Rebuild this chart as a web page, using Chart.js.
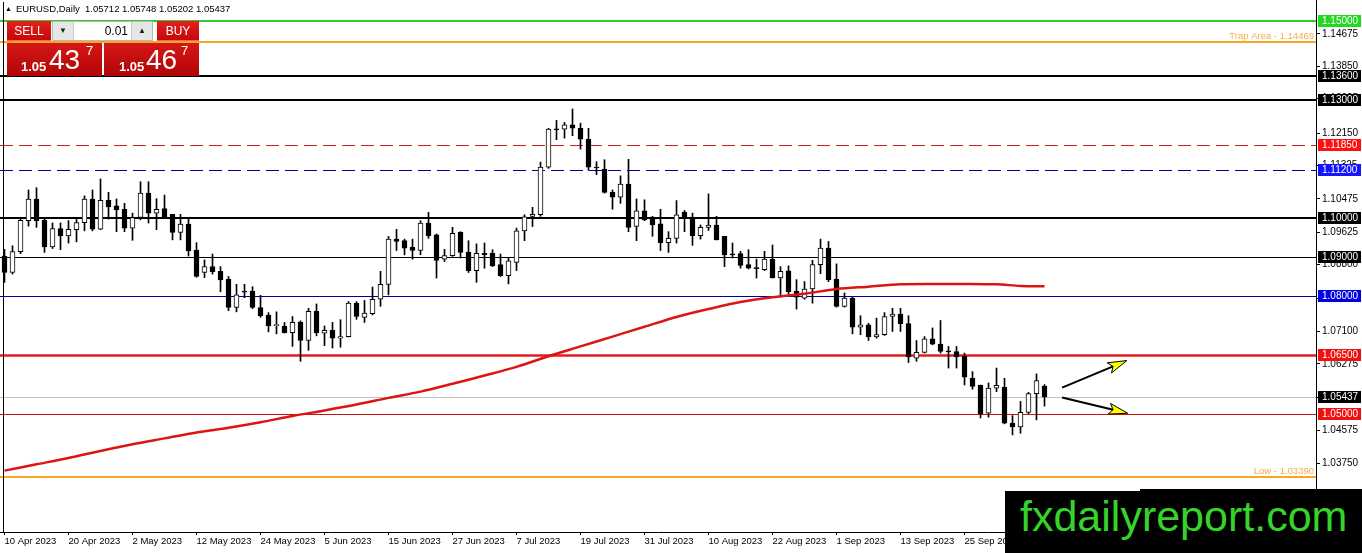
<!DOCTYPE html>
<html>
<head>
<meta charset="utf-8">
<script src="https://cdn.jsdelivr.net/npm/chart.js@4.4.0/dist/chart.umd.min.js"></script>
<style>
body { margin: 0; background: #fff; }
#wrap { position: relative; width: 1362px; height: 553px; overflow: hidden; font-family: "Liberation Sans", Arial, sans-serif; }
#myChart { position: absolute; left: 0; top: 0; }
.hdr { position: absolute; left: 5px; top: 3px; font-size: 9.5px; color: #000; white-space: nowrap; }
.hdr .tri { font-size: 7px; margin-right: 4px; position: relative; top: -1px; }
.btn { position: absolute; top: 21px; height: 20px; line-height: 20px; color: #fff; font-size: 12px; text-align: center;
       background: linear-gradient(#e42020, #c40808); border-bottom: 1px solid #f06060; box-sizing: border-box; }
.lot { position: absolute; left: 52px; top: 21px; width: 101px; height: 20px; background: #fff; border: 1px solid #b8b8b8; box-sizing: border-box; }
.lot .dn, .lot .up { position: absolute; top: 0; width: 20px; height: 18px; background: #e6e6e6; font-size: 8px; line-height: 18px; text-align: center; color: #222; }
.lot .dn { left: 0; border-right: 1px solid #ccc; }
.lot .up { right: 0; border-left: 1px solid #ccc; }
.lot .val { position: absolute; right: 24px; top: 0; line-height: 18px; font-size: 12px; color: #000; }
.big { position: absolute; top: 43px; width: 95px; height: 33px; background: linear-gradient(#d61616, #b00606); color: #fff; }
.big span { position: absolute; line-height: 1; }
.big .s { font-size: 13px; font-weight: bold; top: 17px; }
.big .l { font-size: 28px; top: 3px; }
.big .sup { font-size: 13px; top: 1px; }
.wm { position: absolute; left: 1005px; top: 491px; width: 357px; height: 62px; background: #000; }
.wm2 { position: absolute; left: 1140px; top: 489px; width: 222px; height: 4px; background: #000; }
.wm span { position: absolute; left: 15px; top: 4px; font-size: 43px; line-height: 1; color: #35d42a; white-space: nowrap; }
</style>
</head>
<body>
<div id="wrap">
  <canvas id="myChart" width="1362" height="553"></canvas>
  <div class="hdr"><span class="tri">&#9650;</span>EURUSD,Daily&nbsp; 1.05712 1.05748 1.05202 1.05437</div>
  <div class="btn" style="left:7px;width:44px">SELL</div>
  <div class="lot"><div class="dn">&#9660;</div><div class="val">0.01</div><div class="up">&#9650;</div></div>
  <div class="btn" style="left:157px;width:42px">BUY</div>
  <div class="big" style="left:7px"><span class="s" style="left:14px">1.05</span><span class="l" style="left:42px">43</span><span class="sup" style="left:79px">7</span></div>
  <div class="big" style="left:104px"><span class="s" style="left:15px">1.05</span><span class="l" style="left:42px">46</span><span class="sup" style="left:77px">7</span></div>
  <div class="wm2"></div>
  <div class="wm"><span>fxdailyreport.com</span></div>
</div>
<script>
// date labels, one every 8 daily bars starting at bar 0
var dateLabels = ['10 Apr 2023', '20 Apr 2023', '2 May 2023', '12 May 2023', '24 May 2023', '5 Jun 2023',
  '15 Jun 2023', '27 Jun 2023', '7 Jul 2023', '19 Jul 2023', '31 Jul 2023', '10 Aug 2023',
  '22 Aug 2023', '1 Sep 2023', '13 Sep 2023', '25 Sep 2023'];
var labelStep = 8;

var opens = [
  1.0902, 1.0860, 1.0913, 1.0992, 1.1047, 1.0993, 1.0925, 1.0972, 1.0953, 1.0969,
  1.0987, 1.1047, 1.0970, 1.1044, 1.1030, 1.1021, 1.0973, 1.1000, 1.1062, 1.1011,
  1.1023, 1.1008, 1.0962, 1.0983, 1.0917, 1.0860, 1.0875, 1.0863, 1.0843, 1.0771,
  1.0811, 1.0813, 1.0771, 1.0752, 1.0725, 1.0724, 1.0707, 1.0734, 1.0687, 1.0761,
  1.0706, 1.0713, 1.0693, 1.0697, 1.0782, 1.0746, 1.0755, 1.0792, 1.0830, 1.0945,
  1.0941, 1.0924, 1.0916, 1.0986, 1.0956, 1.0894, 1.0903, 1.0962, 1.0912, 1.0865,
  1.0909, 1.0909, 1.0880, 1.0852, 1.0886, 1.0966, 1.1003, 1.1007, 1.1128, 1.1225,
  1.1225, 1.1236, 1.1227, 1.1199, 1.1127, 1.1123, 1.1064, 1.1052, 1.1085, 1.0977,
  1.1017, 1.1001, 1.0984, 1.0936, 1.0947, 1.1014, 1.1001, 1.0954, 1.0975, 1.0981,
  1.0952, 1.0906, 1.0908, 1.0880, 1.0871, 1.0867, 1.0894, 1.0846, 1.0864, 1.0812,
  1.0795, 1.0818, 1.0880, 1.0922, 1.0843, 1.0774, 1.0795, 1.0721, 1.0727, 1.0696,
  1.0702, 1.0748, 1.0754, 1.0730, 1.0642, 1.0657, 1.0691, 1.0678, 1.0659, 1.0659,
  1.0647, 1.0591, 1.0573, 1.0502, 1.0566, 1.0568, 1.0477, 1.0467, 1.0504, 1.0552,
  1.05712];
var highs = [
  1.0919, 1.0928, 1.0996, 1.1070, 1.1076, 1.0996, 1.0986, 1.0986, 1.0992, 1.0997,
  1.1055, 1.1070, 1.1098, 1.1064, 1.1047, 1.1036, 1.1011, 1.1091, 1.1091, 1.1048,
  1.1057, 1.1008, 1.1008, 1.1000, 1.0936, 1.0892, 1.0907, 1.0875, 1.0850, 1.0830,
  1.0830, 1.0824, 1.0802, 1.0758, 1.0760, 1.0733, 1.0748, 1.0737, 1.0769, 1.0780,
  1.0724, 1.0733, 1.0740, 1.0786, 1.0786, 1.0789, 1.0823, 1.0863, 1.0952, 1.0970,
  1.0945, 1.0945, 1.0992, 1.1013, 1.0958, 1.0919, 1.0975, 1.0964, 1.0941, 1.0933,
  1.0935, 1.0918, 1.0907, 1.0898, 1.0973, 1.1007, 1.1026, 1.1141, 1.1227, 1.1247,
  1.1242, 1.1276, 1.1240, 1.1227, 1.1142, 1.1147, 1.1070, 1.1106, 1.1148, 1.1047,
  1.1045, 1.1003, 1.1021, 1.0964, 1.1043, 1.1018, 1.1011, 1.0981, 1.1060, 1.1003,
  1.0952, 1.0935, 1.0914, 1.0918, 1.0894, 1.0914, 1.0930, 1.0875, 1.0877, 1.0842,
  1.0837, 1.0891, 1.0945, 1.0939, 1.0882, 1.0808, 1.0797, 1.0750, 1.0731, 1.0744,
  1.0758, 1.0769, 1.0769, 1.0750, 1.0687, 1.0697, 1.0719, 1.0738, 1.0672, 1.0672,
  1.0655, 1.0608, 1.0574, 1.0579, 1.0617, 1.0591, 1.0496, 1.0532, 1.0555, 1.0602,
  1.05748];
var lows = [
  1.0835, 1.0856, 1.0908, 1.0978, 1.0975, 1.0911, 1.0921, 1.0918, 1.0935, 1.0938,
  1.0966, 1.0966, 1.0969, 1.0996, 1.0964, 1.0964, 1.0942, 1.0994, 1.0986, 1.0969,
  1.0997, 1.0943, 1.0943, 1.0902, 1.0848, 1.0847, 1.0856, 1.0811, 1.0763, 1.0760,
  1.0796, 1.0768, 1.0746, 1.0709, 1.0704, 1.0706, 1.0672, 1.0634, 1.0662, 1.0699,
  1.0674, 1.0668, 1.0670, 1.0696, 1.0741, 1.0733, 1.0752, 1.0774, 1.0803, 1.0916,
  1.0905, 1.0894, 1.0905, 1.0947, 1.0846, 1.0888, 1.0901, 1.0897, 1.0860, 1.0835,
  1.0871, 1.0875, 1.0850, 1.0831, 1.0865, 1.0941, 1.0977, 1.1003, 1.1125, 1.1198,
  1.1202, 1.1208, 1.1174, 1.1120, 1.1109, 1.1062, 1.1021, 1.1036, 1.0964, 1.0941,
  1.0992, 1.0952, 1.0916, 1.0911, 1.0935, 1.0964, 1.0929, 1.0945, 1.0967, 1.0943,
  1.0875, 1.0897, 1.0871, 1.0869, 1.0846, 1.0865, 1.0846, 1.0797, 1.0805, 1.0767,
  1.0792, 1.0782, 1.0857, 1.0837, 1.0772, 1.0772, 1.0704, 1.0702, 1.0687, 1.0693,
  1.0700, 1.0710, 1.0710, 1.0631, 1.0634, 1.0655, 1.0676, 1.0655, 1.0617, 1.0617,
  1.0574, 1.0563, 1.0490, 1.0492, 1.0557, 1.0475, 1.0447, 1.0451, 1.0501, 1.0485,
  1.05202];
var closes = [
  1.0860, 1.0913, 1.0993, 1.1047, 1.0992, 1.0925, 1.0972, 1.0953, 1.0970, 1.0987,
  1.1047, 1.0970, 1.1044, 1.1027, 1.1020, 1.0973, 1.1000, 1.1062, 1.1011, 1.1021,
  1.1000, 1.0962, 1.0983, 1.0915, 1.0850, 1.0875, 1.0862, 1.0841, 1.0771, 1.0803,
  1.0810, 1.0771, 1.0750, 1.0724, 1.0726, 1.0707, 1.0733, 1.0687, 1.0761, 1.0707,
  1.0713, 1.0693, 1.0697, 1.0782, 1.0748, 1.0757, 1.0792, 1.0830, 1.0945, 1.0939,
  1.0922, 1.0916, 1.0986, 1.0953, 1.0891, 1.0903, 1.0960, 1.0911, 1.0865, 1.0909,
  1.0905, 1.0877, 1.0852, 1.0890, 1.0966, 1.1002, 1.1008, 1.1128, 1.1225, 1.1223,
  1.1236, 1.1227, 1.1199, 1.1128, 1.1126, 1.1064, 1.1052, 1.1085, 1.0975, 1.1017,
  1.0994, 1.0981, 1.0936, 1.0947, 1.1007, 1.1001, 1.0954, 1.0975, 1.0981, 1.0943,
  1.0905, 1.0905, 1.0878, 1.0871, 1.0870, 1.0894, 1.0846, 1.0863, 1.0811, 1.0797,
  1.0818, 1.0880, 1.0922, 1.0842, 1.0774, 1.0795, 1.0721, 1.0727, 1.0696, 1.0702,
  1.0748, 1.0754, 1.0730, 1.0645, 1.0657, 1.0691, 1.0678, 1.0659, 1.0658, 1.0645,
  1.0594, 1.0570, 1.0501, 1.0566, 1.0573, 1.0477, 1.0467, 1.0504, 1.0552, 1.0585,
  1.05437];

// moving average at these bars
var maBars = [0, 4, 8, 12, 16, 20, 24, 28, 32, 36, 40, 44, 48, 52, 56, 60, 64, 68, 72, 76, 80,
  84, 88, 92, 96, 100, 104, 108, 112, 116, 120, 124, 127, 130];
var maValues = [1.0356, 1.0372, 1.0388, 1.0406, 1.0423, 1.0438, 1.0453, 1.0465, 1.0479, 1.0495, 1.0509,
  1.0524, 1.0541, 1.0557, 1.0577, 1.0598, 1.0620, 1.0647, 1.0672, 1.0697, 1.0722,
  1.0747, 1.0767, 1.0785, 1.0797, 1.0806, 1.0818, 1.0824, 1.0830, 1.0831, 1.0831, 1.0830, 1.0826, 1.0825];

var priceTicks = [1.14675, 1.13850, 1.13025, 1.12150, 1.11325, 1.10475, 1.09625, 1.08800,
  1.07950, 1.07100, 1.06275, 1.05425, 1.04575, 1.03750, 1.02900];

// horizontal levels and their look
var levelPrices = [1.15000, 1.14469, 1.13600, 1.13000, 1.11850, 1.11200, 1.10000, 1.09000,
  1.08000, 1.06500, 1.05437, 1.05000, 1.03390];
var levelLook = [
  { color: '#2ecc2e', width: 2, box: '#22d822' },
  { color: '#f5a623', width: 2, text: 'Trap Area - 1.14469' },
  { color: '#000000', width: 2, box: '#000000' },
  { color: '#000000', width: 2, box: '#000000' },
  { color: '#cc2020', width: 1, dash: [13, 6], box: '#ff1010' },
  { color: '#000099', width: 1, dash: [13, 6], box: '#1414ff' },
  { color: '#000000', width: 2, box: '#000000' },
  { color: '#000000', width: 1, box: '#000000' },
  { color: '#000099', width: 1, box: '#0000e0' },
  { color: '#e51c1c', width: 2.5, box: '#f01010' },
  { color: '#c0c0c0', width: 1, box: '#000000' },
  { color: '#cc1010', width: 1, box: '#f01010' },
  { color: '#f5a623', width: 2, text: 'Low - 1.03390' }
];

// hand drawn arrows: [bar, price] of tail and tip
var arrowTails = [[132.2, 1.0567], [132.2, 1.0542]];
var arrowTips = [[140.3, 1.0636], [140.4, 1.0502]];

var bars = opens.map(function (o, i) { return i; });

var levelPlugin = {
  id: 'levels',
  beforeDatasetsDraw: function (chart) {
    var ctx = chart.ctx, a = chart.chartArea, ys = chart.scales.y;
    ctx.save();
    levelPrices.forEach(function (p, k) {
      var lk = levelLook[k];
      var y = Math.round(ys.getPixelForValue(p)) + (lk.width % 2 ? 0.5 : 0);
      ctx.strokeStyle = lk.color;
      ctx.lineWidth = lk.width;
      ctx.setLineDash(lk.dash || []);
      ctx.beginPath();
      ctx.moveTo(a.left, y);
      ctx.lineTo(a.right, y);
      ctx.stroke();
      if (lk.text) {
        ctx.setLineDash([]);
        ctx.fillStyle = '#f2ae45';
        ctx.font = '9.5px "Liberation Sans", Arial, sans-serif';
        ctx.textAlign = 'right';
        ctx.textBaseline = 'alphabetic';
        ctx.fillText(lk.text, a.right - 2, y - 3);
      }
    });
    ctx.restore();
  },
  afterDatasetsDraw: function (chart) {
    var ctx = chart.ctx, xs = chart.scales.x, ys = chart.scales.y;
    ctx.save();
    arrowTails.forEach(function (t, k) {
      var x0 = xs.getPixelForValue(t[0]), y0 = ys.getPixelForValue(t[1]);
      var x1 = xs.getPixelForValue(arrowTips[k][0]), y1 = ys.getPixelForValue(arrowTips[k][1]);
      var len = Math.hypot(x1 - x0, y1 - y0), ux = (x1 - x0) / len, uy = (y1 - y0) / len;
      var bx = x1 - ux * 19, by = y1 - uy * 19;
      ctx.strokeStyle = '#000';
      ctx.lineWidth = 2;
      ctx.beginPath();
      ctx.moveTo(x0, y0);
      ctx.lineTo(bx + ux * 4, by + uy * 4);
      ctx.stroke();
      ctx.fillStyle = '#ffff00';
      ctx.lineWidth = 1;
      ctx.beginPath();
      ctx.moveTo(x1, y1);
      ctx.lineTo(bx - uy * 5.5, by + ux * 5.5);
      ctx.lineTo(bx + ux * 4, by + uy * 4);
      ctx.lineTo(bx + uy * 5.5, by - ux * 5.5);
      ctx.closePath();
      ctx.fill();
      ctx.stroke();
    });
    ctx.restore();
  },
  afterDraw: function (chart) {
    var ctx = chart.ctx, a = chart.chartArea, ys = chart.scales.y;
    ctx.save();
    // left frame
    ctx.strokeStyle = '#000';
    ctx.lineWidth = 1;
    ctx.beginPath();
    ctx.moveTo(3.5, a.top + 2);
    ctx.lineTo(3.5, a.bottom);
    ctx.stroke();
    ctx.font = '10px "Liberation Sans", Arial, sans-serif';
    ctx.textAlign = 'left';
    ctx.textBaseline = 'middle';
    levelPrices.forEach(function (p, k) {
      var lk = levelLook[k];
      if (!lk.box) return;
      var y = Math.round(ys.getPixelForValue(p));
      ctx.fillStyle = lk.box;
      ctx.fillRect(a.right + 2, y - 6, 43, 12);
      ctx.fillStyle = '#fff';
      ctx.fillText(p.toFixed(5), a.right + 6, y + 0.5);
    });
    ctx.restore();
  }
};

var chart = document.getElementById('myChart');
var myChart = new Chart(chart, {
  type: 'bar',
  data: {
    datasets: [
      {
        type: 'line',
        data: maBars.map(function (b, k) { return { x: b, y: maValues[k] }; }),
        borderColor: '#dc1414',
        borderWidth: 2.5,
        pointRadius: 0,
        tension: 0.3,
        order: 0
      },
      {
        data: bars.map(function (i) { return { x: i, y: [opens[i], closes[i]] }; }),
        backgroundColor: bars.map(function (i) { return closes[i] >= opens[i] ? '#ffffff' : '#000000'; }),
        borderColor: '#000000',
        borderWidth: 1,
        borderSkipped: false,
        barThickness: 5,
        minBarLength: 1,
        grouped: false,
        order: 1
      },
      {
        data: bars.map(function (i) { return { x: i, y: [lows[i], highs[i]] }; }),
        backgroundColor: '#000000',
        barThickness: 1,
        grouped: false,
        order: 2
      }
    ]
  },
  options: {
    responsive: false,
    animation: false,
    devicePixelRatio: 1,
    layout: { padding: 0 },
    plugins: { legend: { display: false }, tooltip: { enabled: false } },
    scales: {
      x: {
        type: 'linear',
        offset: false,
        min: -0.5625,
        max: 163.9375,
        afterFit: function (s) { s.height = 21; s.paddingLeft = 0; s.paddingRight = 0; },
        afterBuildTicks: function (s) {
          s.ticks = dateLabels.map(function (d, k) { return { value: k * labelStep }; });
        },
        grid: { offset: false, drawOnChartArea: false, drawTicks: true, tickLength: 3, color: '#000' },
        border: { display: true, color: '#000', width: 1 },
        ticks: {
          autoSkip: false, maxRotation: 0, align: 'start', padding: 1, color: '#000',
          font: { family: '"Liberation Sans", Arial, sans-serif', size: 9.5 },
          callback: function (v) { return dateLabels[Math.round(v / labelStep)]; }
        }
      },
      y: {
        type: 'linear',
        position: 'right',
        min: 1.01998,
        max: 1.15534,
        afterFit: function (s) { s.width = 46; s.paddingTop = 0; s.paddingBottom = 0; },
        afterBuildTicks: function (s) {
          s.ticks = priceTicks.map(function (v) { return { value: v }; });
        },
        grid: { drawOnChartArea: false, drawTicks: true, tickLength: 4, color: '#000' },
        border: { display: true, color: '#000', width: 1 },
        ticks: {
          padding: 2, color: '#000',
          font: { family: '"Liberation Sans", Arial, sans-serif', size: 10 },
          callback: function (v) { return v.toFixed(5); }
        }
      }
    }
  },
  plugins: [levelPlugin]
});
</script>
</body>
</html>
